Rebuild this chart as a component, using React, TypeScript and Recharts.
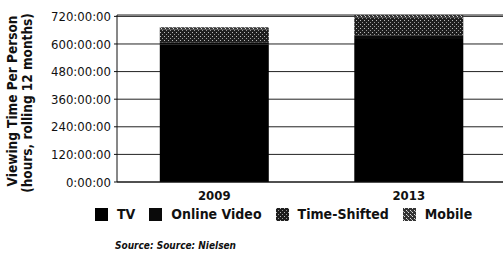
import React from "react";
import { BarChart, Bar, XAxis, YAxis, CartesianGrid } from "recharts";

const years = ["2009", "2013"];
const tvHours = [598, 622];
const onlineVideoHours = [10, 16];
const timeShiftedHours = [54, 78];
const mobileHours = [11, 10];
const yTicks = [0, 120, 240, 360, 480, 600, 720];

const data = years.map((year, i) => ({
  year,
  tv: tvHours[i],
  online: onlineVideoHours[i],
  shifted: timeShiftedHours[i],
  mobile: mobileHours[i],
}));

const font = "'DejaVu Sans Condensed', 'Liberation Sans Narrow', sans-serif";

const legendItems = [
  { label: "TV", fill: "#000" },
  { label: "Online Video", fill: "#0a0a0a" },
  { label: "Time-Shifted", fill: "url(#shiftedPat)" },
  { label: "Mobile", fill: "url(#mobilePat)" },
];

const Patterns = () => (
  <defs>
    <pattern id="shiftedPat" width="4" height="4" patternUnits="userSpaceOnUse">
      <rect width="4" height="4" fill="#1e1e1e" />
      <rect x="0" y="0" width="1" height="1" fill="#bbb" />
      <rect x="2" y="2" width="1" height="1" fill="#999" />
    </pattern>
    <pattern id="mobilePat" width="4" height="4" patternUnits="userSpaceOnUse">
      <rect width="4" height="4" fill="#333" />
      <rect x="1" y="0" width="1" height="1" fill="#ddd" />
      <rect x="3" y="2" width="1" height="1" fill="#ddd" />
      <rect x="0" y="3" width="1" height="1" fill="#aaa" />
    </pattern>
  </defs>
);

const YTitle = () => (
  <g fontFamily={font} fontWeight="bold" fontSize={13.5} fill="#111">
    <text transform="translate(17,101) rotate(-90)" textAnchor="middle">
      Viewing Time Per Person
    </text>
    <text transform="translate(32,103) rotate(-90)" textAnchor="middle">
      (hours, rolling 12 months)
    </text>
  </g>
);

export default function App() {
  return (
    <div style={{ position: "absolute", left: 0, top: 0, width: 503, height: 256, overflow: "hidden", background: "#fff" }}>
      <BarChart
        width={506}
        height={256}
        data={data}
        margin={{ top: 15, right: 0, bottom: 46, left: 0 }}
        barCategoryGap="22%"
      >
        <Patterns />
        <CartesianGrid vertical={false} stroke="#222" strokeWidth={1} />
        <XAxis
          dataKey="year"
          height={28}
          axisLine={{ stroke: "#111" }}
          tickLine={false}
          tick={{ fill: "#111", fontSize: 13, fontWeight: "bold", fontFamily: font }}
          tickMargin={3}
        />
        <YAxis
          width={117}
          domain={[0, 720]}
          ticks={yTicks}
          interval={0}
          tickFormatter={(v: number) => `${v}:00:00`}
          axisLine={{ stroke: "#111" }}
          tickLine={{ stroke: "#111" }}
          tickSize={3}
          tickMargin={3}
          tick={{ fill: "#111", fontSize: 13, fontFamily: font }}
          label={{ content: () => <YTitle /> }}
        />
        <Bar dataKey="tv" stackId="a" fill="#000" isAnimationActive={false} />
        <Bar dataKey="online" stackId="a" fill="#0a0a0a" isAnimationActive={false} />
        <Bar dataKey="shifted" stackId="a" fill="url(#shiftedPat)" isAnimationActive={false} />
        <Bar dataKey="mobile" stackId="a" fill="url(#mobilePat)" isAnimationActive={false} />
      </BarChart>
      <div
        style={{
          position: "absolute",
          left: 95,
          top: 206,
          display: "flex",
          alignItems: "center",
          fontFamily: font,
          fontWeight: "bold",
          fontSize: 14,
          color: "#111",
          whiteSpace: "nowrap",
        }}
      >
        {legendItems.map((it) => (
          <span key={it.label} style={{ display: "flex", alignItems: "center", marginRight: 14 }}>
            <svg width={13} height={13} style={{ marginRight: 9 }}>
              <Patterns />
              <rect width={13} height={13} fill={it.fill} />
            </svg>
            {it.label}
          </span>
        ))}
      </div>
      <div
        style={{
          position: "absolute",
          left: 115,
          top: 240,
          fontFamily: font,
          fontStyle: "italic",
          fontWeight: "bold",
          fontSize: 10,
          color: "#111",
        }}
      >
        Source: Source: Nielsen
      </div>
    </div>
  );
}
